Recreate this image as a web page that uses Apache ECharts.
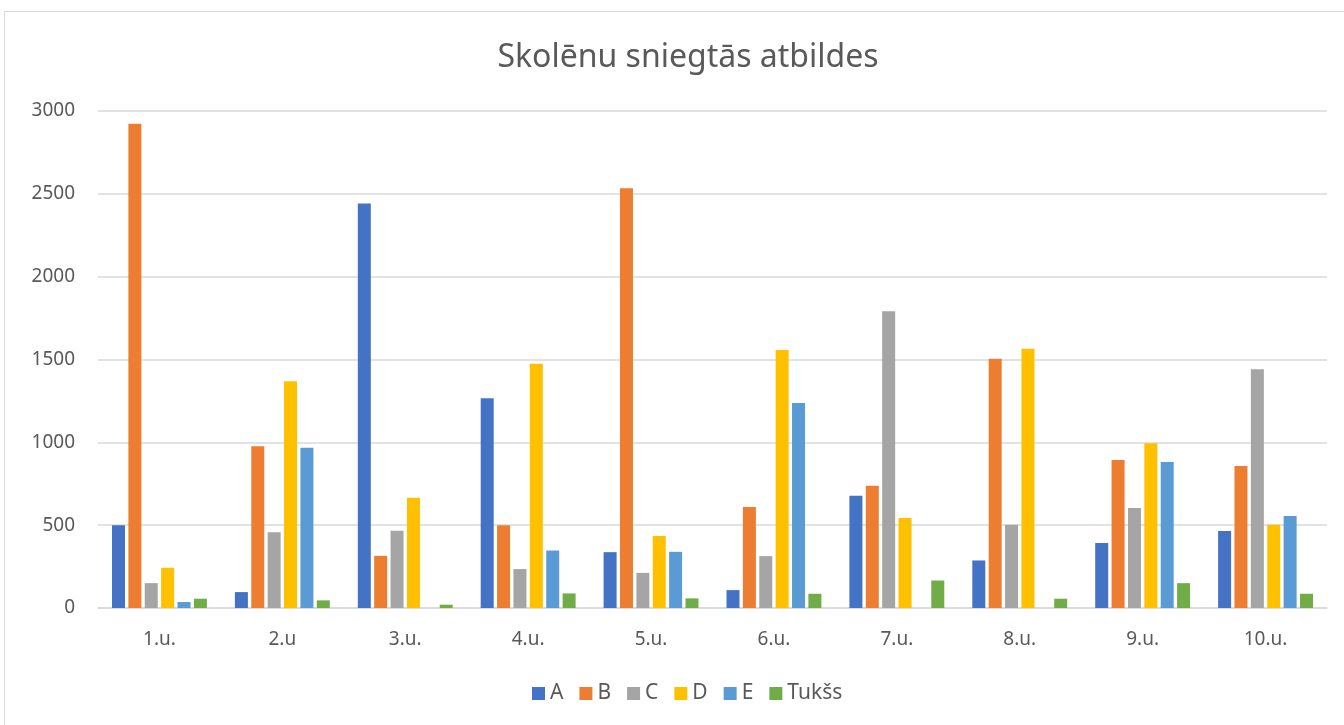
<!DOCTYPE html>
<html>
<head>
<meta charset="utf-8">
<script src="https://cdn.jsdelivr.net/npm/echarts@6/dist/echarts.min.js"></script>
<style>
html,body{margin:0;padding:0;background:#fff;}
#c{width:1344px;height:725px;}
</style>
</head>
<body>
<div id="c"></div>
<script>
var categories = ['1.u.', '2.u', '3.u.', '4.u.', '5.u.', '6.u.', '7.u.', '8.u.', '9.u.', '10.u.'];
var seriesNames = ['A', 'B', 'C', 'D', 'E', 'Tukšs'];
var valuesA = [500, 96, 2442, 1266, 337, 108, 678, 287, 393, 465];
var valuesB = [2923, 977, 315, 500, 2534, 610, 738, 1505, 893, 857];
var valuesC = [150, 457, 467, 235, 212, 313, 1792, 502, 604, 1441];
var valuesD = [243, 1368, 666, 1475, 435, 1557, 544, 1565, 995, 502];
var valuesE = [36, 967, 0, 347, 339, 1238, 0, 0, 881, 556];
var valuesTukss = [56, 46, 20, 88, 58, 86, 166, 56, 150, 86];
var yTicks = [0, 500, 1000, 1500, 2000, 2500, 3000];
var colors = ['#4472C4', '#ED7D31', '#A5A5A5', '#FFC000', '#5B9BD5', '#70AD47'];

var allValues = [valuesA, valuesB, valuesC, valuesD, valuesE, valuesTukss];
var font = '"Noto Sans", "Open Sans", sans-serif';
var chart = echarts.init(document.getElementById('c'), null, {renderer: 'canvas'});
chart.setOption({
  animation: false,
  color: colors,
  textStyle: {fontFamily: font, color: '#595959'},
  title: {
    text: 'Skolēnu sniegtās atbildes',
    left: 683,
    textAlign: 'center',
    top: 37,
    textStyle: {fontFamily: font, fontSize: 32, fontWeight: 'normal', color: '#595959'}
  },
  graphic: [{
    type: 'rect',
    shape: {x: 4.5, y: 11.5, width: 1400, height: 800},
    style: {fill: 'none', stroke: '#D9D9D9', lineWidth: 1},
    silent: true
  }],
  legend: {
    data: seriesNames,
    bottom: 16,
    left: 527,
    itemWidth: 13,
    itemHeight: 13,
    itemGap: 16,
    icon: 'rect',
    textStyle: {fontFamily: font, fontSize: 21, color: '#595959'}
  },
  grid: {left: 98, right: 17, top: 111, bottom: 117, containLabel: false},
  xAxis: {
    type: 'category',
    data: categories,
    axisLine: {lineStyle: {color: '#D9D9D9', width: 1.5}},
    axisTick: {show: false},
    axisLabel: {fontFamily: font, fontSize: 19, color: '#595959', margin: 22}
  },
  yAxis: {
    type: 'value',
    min: yTicks[0],
    max: yTicks[yTicks.length - 1],
    interval: yTicks[1] - yTicks[0],
    axisLine: {show: false},
    axisTick: {show: false},
    splitLine: {lineStyle: {color: '#D9D9D9', width: 1.5}},
    axisLabel: {fontFamily: font, fontSize: 19, color: '#595959', margin: 23,
      formatter: function (v) { return String(v); }}
  },
  series: seriesNames.map(function (n, i) {
    return {
      name: n,
      type: 'bar',
      data: allValues[i],
      barWidth: 13,
      barGap: '26%',
      itemStyle: {color: colors[i]}
    };
  })
});
</script>
</body>
</html>
